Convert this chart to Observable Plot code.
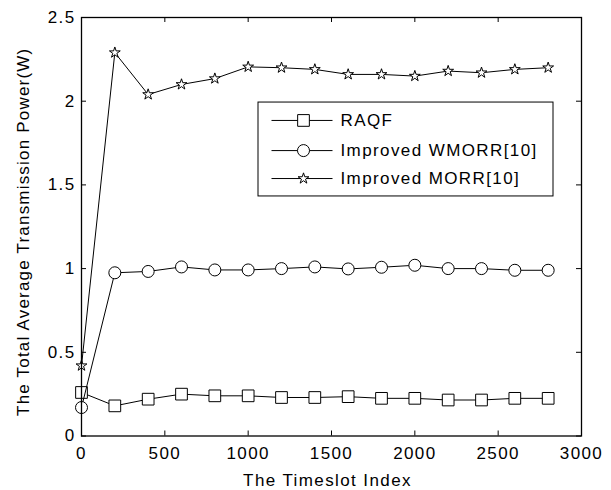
<!DOCTYPE html>
<html>
<head>
<meta charset="utf-8">
<script src="https://cdn.jsdelivr.net/npm/d3@7"></script>
<script src="https://cdn.jsdelivr.net/npm/@observablehq/plot@0.6"></script>
<style>
  html, body { margin: 0; padding: 0; background: #fff; }
  #chart svg text { letter-spacing: 1.4px; }
  #chart svg g.ylab text { letter-spacing: 1.2px; }
</style>
</head>
<body>
<div id="chart"></div>
<script>
const timeslots = [0, 200, 400, 600, 800, 1000, 1200, 1400, 1600, 1800, 2000, 2200, 2400, 2600, 2800];
const raqf  = [0.26, 0.18, 0.22, 0.25, 0.24, 0.24, 0.23, 0.23, 0.235, 0.225, 0.225, 0.215, 0.215, 0.225, 0.225];
const wmorr = [0.17, 0.975, 0.983, 1.01, 0.992, 0.992, 1.0, 1.01, 0.998, 1.008, 1.02, 1.0, 1.0, 0.99, 0.99];
const morr  = [0.42, 2.29, 2.04, 2.10, 2.135, 2.205, 2.20, 2.19, 2.16, 2.16, 2.15, 2.18, 2.17, 2.19, 2.20];
const seriesNames = ["RAQF", "Improved WMORR[10]", "Improved MORR[10]"];
const seriesSymbols = ["square", "circle", "star"];
const seriesR = [6.6, 6, 3.4];
const xTicks = [0, 500, 1000, 1500, 2000, 2500, 3000];
const yTicks = [0, 0.5, 1, 1.5, 2, 2.5];
const yTickLabels = ["0", "0.5", "1", "1.5", "2", "2.5"];
const xLabel = "The Timeslot Index";
const yLabel = "The Total Average Transmission Power(W)";

const W = 611, H = 490;
const mL = 81, mR = 30, mT = 17, mB = 54.5;
const pw = W - mL - mR, ph = H - mT - mB;

const seriesValues = [raqf, wmorr, morr];
const rows = [];
seriesValues.forEach((vals, s) => vals.forEach((v, i) => rows.push({t: timeslots[i], v, s})));

// legend layout (in data units of the plot)
const legBox = {x1: 1062, x2: 2832, y1: 1.431, y2: 1.992};
const legY = [1.885, 1.705, 1.538];
const legLine = [1140, 1506], legMark = 1332, legText = 1554;
const legRows = seriesNames.map((n, s) => ({n, s, y: legY[s]}));

const font = "17px";
const marks = [];
seriesValues.forEach((vals, s) => {
  const d = rows.filter(r => r.s === s);
  marks.push(Plot.line(d, {x: "t", y: "v", stroke: "#000", strokeWidth: 1}));
  marks.push(Plot.dot(d, {x: "t", y: "v", symbol: () => seriesSymbols[s], r: seriesR[s], fill: "#fff", stroke: "#000", strokeWidth: 1}));
});
// legend
marks.push(Plot.rect([legBox], {x1: "x1", x2: "x2", y1: "y1", y2: "y2", fill: "#fff", stroke: "#000", strokeWidth: 1}));
legRows.forEach(lr => {
  marks.push(Plot.link([lr], {x1: () => legLine[0], x2: () => legLine[1], y1: "y", y2: "y", stroke: "#000", strokeWidth: 1}));
  marks.push(Plot.dot([lr], {x: () => legMark, y: "y", symbol: () => seriesSymbols[lr.s], r: seriesR[lr.s], fill: "#fff", stroke: "#000", strokeWidth: 1}));
  marks.push(Plot.text([lr], {x: () => legText, y: "y", text: "n", textAnchor: "start", fontSize: font, fill: "#000"}));
});
// inward ticks
marks.push(Plot.ruleX(xTicks, {x: d => d, insetTop: ph - 5, stroke: "#000", strokeWidth: 1}));
marks.push(Plot.ruleX(xTicks, {x: d => d, insetBottom: ph - 5, stroke: "#000", strokeWidth: 1}));
marks.push(Plot.ruleY(yTicks, {y: d => d, insetRight: pw - 5, stroke: "#000", strokeWidth: 1}));
marks.push(Plot.ruleY(yTicks, {y: d => d, insetLeft: pw - 5, stroke: "#000", strokeWidth: 1}));
marks.push(Plot.frame({stroke: "#000", strokeWidth: 1.3}));
// axes
marks.push(Plot.axisX(xTicks, {tickSize: 0, tickPadding: 11, fontSize: font, label: null, tickFormat: d => String(d)}));
marks.push(Plot.axisY(yTicks, {tickSize: 0, tickPadding: 6, fontSize: font, label: null, tickFormat: (d, i) => yTickLabels[yTicks.indexOf(d)]}));
// axis titles
marks.push(Plot.text([xLabel], {frameAnchor: "bottom", dx: -4, dy: 50, lineAnchor: "bottom", text: d => d, fontSize: font, fill: "#000"}));
marks.push(Plot.text([yLabel], {frameAnchor: "left", dx: -58, dy: 5, rotate: -90, textAnchor: "middle", lineAnchor: "middle", text: d => d, fontSize: font, fill: "#000", className: "ylab"}));

const chart = Plot.plot({
  width: W, height: H,
  marginLeft: mL, marginRight: mR, marginTop: mT, marginBottom: mB,
  style: {fontFamily: "'Liberation Sans', Arial, Helvetica, sans-serif", color: "#000", background: "#fff", overflow: "visible"},
  x: {domain: [0, 3000]},
  y: {domain: [0, 2.5]},
  marks
});
document.getElementById("chart").appendChild(chart);
</script>
</body>
</html>
